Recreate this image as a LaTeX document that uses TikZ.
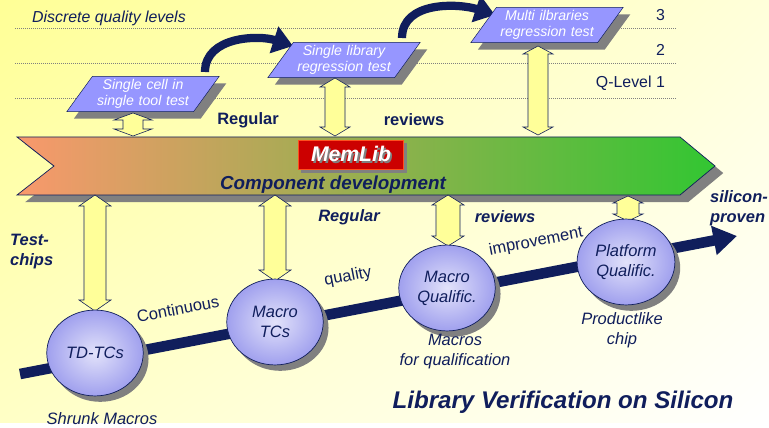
\documentclass[tikz,border=0pt]{standalone}
\usepackage{fontspec}
\setmainfont{Liberation Sans}
\usetikzlibrary{shapes.geometric,shadows,shadings,arrows.meta,calc}

\definecolor{navy}{RGB}{16,30,92}
\definecolor{boxblue}{RGB}{150,150,255}
\definecolor{shadowgray}{RGB}{128,128,128}
\definecolor{arryellow}{RGB}{255,255,153}
\definecolor{bandleft}{RGB}{249,152,108}
\definecolor{bandmid}{RGB}{198,172,88}
\definecolor{bandright}{RGB}{50,198,50}
\definecolor{memred}{RGB}{204,0,0}
\definecolor{memedge}{RGB}{255,80,30}
\definecolor{balllight}{RGB}{226,226,250}
\definecolor{balldark}{RGB}{160,160,238}
\definecolor{bgtl}{RGB}{255,255,150}
\definecolor{bgtr}{RGB}{255,255,218}
\definecolor{bgbl}{RGB}{255,255,198}

\tikzset{
  levelbox/.style={trapezium, trapezium left angle=54, trapezium right angle=126,
    fill=boxblue, draw=navy, line width=0.4pt, text=white, align=center,
    text width=86pt, inner xsep=-4pt, inner ysep=1pt, minimum height=30pt,
    font=\fontsize{12}{14}\selectfont\itshape,
    drop shadow={shadow xshift=6pt,shadow yshift=-6pt,fill=shadowgray,opacity=1}},
  ball/.style={ellipse, minimum width=82pt, minimum height=73pt, draw=navy, line width=0.6pt,
    inner color=balllight, outer color=balldark, text=navy, align=center,
    font=\fontsize{14}{17}\selectfont\itshape,
    drop shadow={shadow xshift=4.5pt,shadow yshift=-5pt,fill=shadowgray,opacity=1}},
  yarrow/.style={fill=arryellow, draw=navy, line width=0.5pt, line join=miter},
  bluebend/.style={navy, line width=7pt, -{Triangle[length=17pt,width=23pt]}},
  plain/.style={text=navy, font=\fontsize{13.5}{16}\selectfont},
  note/.style={text=navy, align=center, font=\fontsize{14}{17}\selectfont\itshape},
  strong/.style={text=navy, font=\fontsize{14}{17}\selectfont\bfseries},
  strongit/.style={text=navy, align=left, font=\fontsize{14}{17}\selectfont\bfseries\itshape},
  level/.style={gray, densely dotted, line width=0.7pt}
}

% double headed block arrow: top, bottom, head half width, shaft half width, head length
\newcommand\qarrow[5]{%
  \draw[yarrow] (#1) -- ($(#1)+(#3,#5)$) -- ($(#1)+(#4,#5)$) -- ($(#2)+(#4,-#5)$)
    -- ($(#2)+(#3,-#5)$) -- (#2) -- ($(#2)+(-#3,-#5)$) -- ($(#2)+(-#4,-#5)$)
    -- ($(#1)+(-#4,#5)$) -- ($(#1)+(-#3,#5)$) -- cycle;}

\begin{document}
\begin{tikzpicture}[x=0.85pt,y=-0.85pt]
  \useasboundingbox (0,0) rectangle (769,428);
  \shade[upper left=bgtl, upper right=bgtr, lower left=bgbl, lower right=white] (0,0) rectangle (769,422);

  % quality levels
  \draw[level] (15,28) -- (676,28);
  \draw[level] (15,63) -- (676,63);
  \draw[level] (15,98) -- (676,98);
  \node[plain, anchor=west] (DQ) at (28,18) {\itshape Discrete quality levels};
  \node[plain, anchor=east] (L3) at (669,15) {3};
  \node[plain, anchor=east] (L2) at (669,50) {2};
  \node[plain, anchor=east] (L1) at (669,83) {Q-Level 1};

  \coordinate (S1) at (205,72);
  \coordinate (E1) at (293,46);
  \coordinate (S2) at (402,38);
  \coordinate (E2) at (495,15);
  \draw[bluebend] (S1) to[out=90,in=162] (E1);
  \draw[bluebend] (S2) to[out=90,in=162] (E2);

  \node[levelbox] (B1) at (143,94) {Single cell in\\single tool test};
  \node[levelbox] (B2) at (344,60) {Single library\\regression test};
  \node[levelbox] (B3) at (547,25) {Multi ilbraries\\regression test};

  \coordinate (A1) at (133,113); \coordinate (A2) at (133,136);
  \coordinate (A3) at (335,78);  \coordinate (A4) at (335,136);
  \coordinate (A5) at (538,46);  \coordinate (A6) at (538,135);
  \qarrow{A1}{A2}{19}{10}{7}
  \qarrow{A3}{A4}{15}{10}{9}
  \qarrow{A5}{A6}{15}{10}{8}

  \node[strong] (R1) at (248,120) {Regular};
  \node[strong] (V1) at (414,120) {reviews};

  % component band
  \shadedraw[draw=navy, line width=0.6pt, left color=bandleft, middle color=bandmid, right color=bandright,
    drop shadow={shadow xshift=7pt,shadow yshift=-6pt,fill=shadowgray,opacity=1}]
    (17,137) -- (680,137) -- (715,166) -- (680,195) -- (17,195) -- (54,166) -- cycle;
  \node[fill=memred, draw=memedge, line width=0.8pt, minimum width=90pt, minimum height=25pt,
    text=white, font=\fontsize{18}{20}\selectfont\bfseries\itshape,
    drop shadow={shadow xshift=2.5pt,shadow yshift=-2.5pt,fill=shadowgray,opacity=1}] (M) at (351,155)
    {\rlap{\hspace{1.6pt}\raisebox{-1.6pt}{\textcolor{shadowgray}{MemLib}}}MemLib};
  \node[strongit, font=\fontsize{16}{18}\selectfont\bfseries\itshape] (CD) at (333,185) {Component development};

  \coordinate (D1) at (95,195);  \coordinate (D2) at (95,311);
  \coordinate (D3) at (275,195); \coordinate (D4) at (275,281);
  \coordinate (D5) at (448,195); \coordinate (D6) at (448,246);
  \coordinate (D7) at (628,196); \coordinate (D8) at (628,221);
  \qarrow{D1}{D2}{16}{11}{11}
  \qarrow{D3}{D4}{16}{11}{11}
  \qarrow{D5}{D6}{16}{12}{10}
  \qarrow{D7}{D8}{15}{11}{7}

  \node[strongit] (R2) at (349,217) {Regular};
  \node[strongit] (V2) at (505,217) {reviews};
  \node[strongit, anchor=west] (TC) at (6,252) {Test-\\chips};
  \node[strongit, anchor=west] (SP) at (706,208) {silicon-\\proven};

  % silicon timeline
  \coordinate (T0) at (20,374);
  \coordinate (T1) at (737,236);
  \draw[navy, line width=9pt, -{Triangle[length=20pt,width=24pt]}] (T0) -- (T1);
  \node[note, rotate=11] (W1) at (178,309) {\upshape Continuous};
  \node[note, rotate=11] (W2) at (348,277) {\upshape quality};
  \node[note, rotate=11, inner sep=1pt] (W3) at (536,242) {\upshape improvement};

  \node[ball] (C1) at (95,353) {TD-TCs};
  \node[ball] (C2) at (275,322) {Macro\\TCs};
  \node[ball] (C3) at (447,288) {Macro\\Qualific.};
  \node[ball] (C4) at (626,262) {Platform\\Qualific.};

  \node[note] (N1) at (102,419) {Shrunk Macros};
  \node[note] (N3) at (455,352) {Macros\\for qualification};
  \node[note] (N4) at (622,330) {Productlike\\chip};
  \node[strongit, font=\fontsize{20.5}{23}\selectfont\bfseries\itshape] (TT) at (563,402) {Library Verification on Silicon};
\end{tikzpicture}
\end{document}
